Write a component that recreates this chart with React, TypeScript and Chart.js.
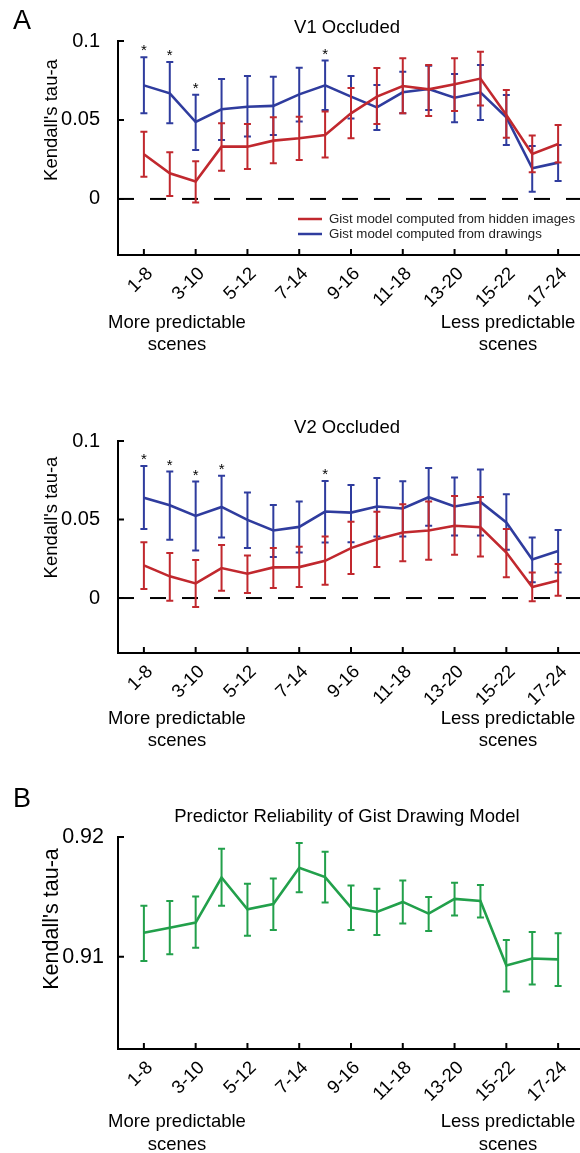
import React, { useEffect, useRef } from 'react';
import { Chart, registerables } from 'chart.js';

Chart.register(...registerables);

const FONT = '"Liberation Sans", Arial, Helvetica, sans-serif';

// Sliding windows of scenes, ordered from more to less predictable
const categories = [
  '1-8', '2-9', '3-10', '4-11', '5-12', '6-13', '7-14', '8-15', '9-16',
  '10-17', '11-18', '12-19', '13-20', '14-21', '15-22', '16-23', '17-24',
];
const labeledTicks = [0, 2, 4, 6, 8, 10, 12, 14, 16];

// V1 occluded: gist model from hidden images (mean, upper, lower)
const v1HiddenMean = [0.0283, 0.0162, 0.011, 0.0331, 0.0331, 0.0369, 0.0384, 0.0405, 0.0542, 0.0648, 0.0715, 0.0694, 0.0726, 0.0762, 0.0532, 0.0285, 0.0348];
const v1HiddenHigh = [0.0426, 0.0295, 0.0238, 0.0479, 0.0475, 0.0517, 0.0521, 0.0553, 0.0703, 0.0829, 0.089, 0.0848, 0.089, 0.0932, 0.069, 0.0401, 0.0468];
const v1HiddenLow = [0.0141, 0.0019, -0.0023, 0.0179, 0.019, 0.0226, 0.0247, 0.0262, 0.0384, 0.0475, 0.0542, 0.0525, 0.0557, 0.0591, 0.0388, 0.0169, 0.023];

// V1 occluded: gist model from drawings
const v1DrawMean = [0.0719, 0.0669, 0.0487, 0.0568, 0.0584, 0.0589, 0.0662, 0.0719, 0.0648, 0.058, 0.0675, 0.0696, 0.0641, 0.0675, 0.0517, 0.0194, 0.023];
const v1DrawHigh = [0.0897, 0.0867, 0.066, 0.076, 0.0778, 0.0774, 0.0831, 0.0876, 0.0778, 0.0722, 0.0806, 0.0844, 0.0791, 0.0848, 0.0658, 0.0335, 0.0342];
const v1DrawLow = [0.0542, 0.0479, 0.031, 0.0373, 0.0395, 0.0405, 0.049, 0.0563, 0.051, 0.0437, 0.0542, 0.0563, 0.0485, 0.05, 0.0342, 0.0046, 0.0114];
const v1Stars = [0, 1, 2, 7];

// V2 occluded: gist model from hidden images
const v2HiddenMean = [0.0208, 0.0138, 0.0093, 0.0191, 0.0155, 0.0195, 0.0197, 0.0237, 0.0318, 0.0375, 0.0417, 0.043, 0.046, 0.0451, 0.029, 0.007, 0.0112];
const v2HiddenHigh = [0.0356, 0.0286, 0.0242, 0.0337, 0.0271, 0.0318, 0.0326, 0.0392, 0.0485, 0.0549, 0.0597, 0.0614, 0.065, 0.0644, 0.0439, 0.0163, 0.0216];
const v2HiddenLow = [0.0057, -0.0017, -0.0057, 0.0047, 0.0032, 0.0064, 0.007, 0.0085, 0.0153, 0.0197, 0.0235, 0.0244, 0.0275, 0.0265, 0.0133, -0.0021, 0.0015];

// V2 occluded: gist model from drawings
const v2DrawMean = [0.0638, 0.0591, 0.0523, 0.058, 0.0498, 0.043, 0.0453, 0.0551, 0.0544, 0.0583, 0.057, 0.0642, 0.0583, 0.0612, 0.0481, 0.0246, 0.0299];
const v2DrawHigh = [0.0841, 0.0805, 0.0742, 0.0778, 0.0672, 0.0593, 0.0614, 0.0746, 0.072, 0.0765, 0.0744, 0.0828, 0.0767, 0.0818, 0.0661, 0.0386, 0.0434];
const v2DrawLow = [0.0439, 0.0371, 0.0303, 0.0386, 0.0318, 0.0261, 0.029, 0.0354, 0.0356, 0.0392, 0.0392, 0.046, 0.0398, 0.0398, 0.0307, 0.01, 0.0163];
const v2Stars = [0, 1, 2, 3, 7];

// Predictor reliability of the gist drawing model
const reliabilityMean = [0.91201, 0.91243, 0.91285, 0.91662, 0.91397, 0.91441, 0.91743, 0.91665, 0.91411, 0.91374, 0.91458, 0.9136, 0.91483, 0.91466, 0.90927, 0.90986, 0.90978];
const reliabilityHigh = [0.91425, 0.91466, 0.91503, 0.91902, 0.91609, 0.91654, 0.9195, 0.91877, 0.91595, 0.91567, 0.91637, 0.915, 0.91617, 0.916, 0.9114, 0.91207, 0.91196];
const reliabilityLow = [0.90964, 0.91022, 0.91075, 0.91427, 0.91176, 0.91223, 0.91539, 0.91453, 0.91223, 0.91182, 0.91277, 0.91215, 0.91344, 0.91327, 0.9071, 0.90768, 0.90757];

const tauTicks = [0, 0.05, 0.1];
const tauTickLabels = ['0', '0.05', '0.1'];
const reliabilityTicks = [0.91, 0.92];
const reliabilityTickLabels = ['0.91', '0.92'];

const RED = '#c1282e';
const BLUE = '#2f3c9e';
const GREEN = '#22a04b';

type Series = { label: string; mean: number[]; high: number[]; low: number[]; color: string };

type PanelSpec = {
  top: number;
  height: number;
  areaTop: number;
  areaBottom: number;
  yMin: number;
  yMax: number;
  yTicks: number[];
  yTickLabels: string[];
  yTickSize: number;
  yTickPad: number;
  yTitleSize: number;
  yTitleX: number;
  yTitleY: number;
  title: string;
  titleY: number;
  letter?: string;
  letterY?: number;
  series: Series[];
  stars?: number[];
  legendY?: number[];
  zeroLine?: boolean;
  captionY: number[];
};

const CANVAS_W = 584;
const AXIS_LEFT = 118;

function drawText(
  ctx: CanvasRenderingContext2D,
  str: string,
  x: number,
  y: number,
  size: number,
  align: CanvasTextAlign = 'center',
  baseline: CanvasTextBaseline = 'alphabetic',
) {
  ctx.font = `${size}px ${FONT}`;
  ctx.textAlign = align;
  ctx.textBaseline = baseline;
  ctx.fillStyle = '#000';
  ctx.fillText(str, x, y);
}

function makePlugin(spec: PanelSpec) {
  return {
    id: 'panelDecor',
    beforeDatasetsDraw(chart: any) {
      if (!spec.zeroLine) return;
      const { ctx, chartArea, scales } = chart;
      const y0 = scales.y.getPixelForValue(0);
      ctx.save();
      ctx.strokeStyle = '#000';
      ctx.lineWidth = 2;
      ctx.setLineDash([16, 16]);
      ctx.beginPath();
      ctx.moveTo(chartArea.left, y0);
      ctx.lineTo(chart.width, y0);
      ctx.stroke();
      ctx.restore();
    },
    beforeDatasetDraw(chart: any, args: any) {
      const s = spec.series[args.index];
      if (!s) return;
      const { ctx, scales } = chart;
      ctx.save();
      ctx.strokeStyle = s.color;
      ctx.lineWidth = 2;
      ctx.lineCap = 'butt';
      for (let i = 0; i < s.mean.length; i++) {
        const px = scales.x.getPixelForValue(i);
        const hi = scales.y.getPixelForValue(s.high[i]);
        const lo = scales.y.getPixelForValue(s.low[i]);
        ctx.beginPath();
        ctx.moveTo(px, hi);
        ctx.lineTo(px, lo);
        ctx.moveTo(px - 3.5, hi);
        ctx.lineTo(px + 3.5, hi);
        ctx.moveTo(px - 3.5, lo);
        ctx.lineTo(px + 3.5, lo);
        ctx.stroke();
      }
      ctx.restore();
    },
    afterDraw(chart: any) {
      const { ctx, chartArea, scales } = chart;
      ctx.save();
      // inward tick marks
      ctx.strokeStyle = '#000';
      ctx.lineWidth = 2;
      ctx.beginPath();
      for (const t of scales.x.ticks) {
        const px = scales.x.getPixelForValue(t.value);
        ctx.moveTo(px, chartArea.bottom);
        ctx.lineTo(px, chartArea.bottom - 6);
      }
      for (const t of scales.y.ticks) {
        const py = scales.y.getPixelForValue(t.value);
        ctx.moveTo(chartArea.left, py);
        ctx.lineTo(chartArea.left + 6, py);
      }
      ctx.stroke();

      // titles and labels
      drawText(ctx, spec.title, 347, spec.titleY, 18.5);
      if (spec.letter) drawText(ctx, spec.letter, 13, spec.letterY ?? 28, 27, 'left');
      ctx.save();
      ctx.translate(spec.yTitleX, spec.yTitleY);
      ctx.rotate(-Math.PI / 2);
      drawText(ctx, "Kendall's tau-a", 0, 0, spec.yTitleSize);
      ctx.restore();

      drawText(ctx, 'More predictable', 177, spec.captionY[0], 18.5);
      drawText(ctx, 'scenes', 177, spec.captionY[1], 18.5);
      drawText(ctx, 'Less predictable', 508, spec.captionY[0], 18.5);
      drawText(ctx, 'scenes', 508, spec.captionY[1], 18.5);

      // significance markers above the drawing-model error bars
      if (spec.stars) {
        const s = spec.series[spec.series.length - 1];
        for (const i of spec.stars) {
          const px = scales.x.getPixelForValue(i);
          const py = scales.y.getPixelForValue(s.high[i]);
          drawText(ctx, '*', px, py - 2, 15);
        }
      }

      // legend
      if (spec.legendY) {
        spec.series.forEach((s, k) => {
          const ly = spec.legendY![k];
          ctx.strokeStyle = s.color;
          ctx.lineWidth = 2.5;
          ctx.beginPath();
          ctx.moveTo(298, ly);
          ctx.lineTo(322, ly);
          ctx.stroke();
          ctx.font = `13.3px ${FONT}`;
          ctx.fillStyle = '#222';
          ctx.textAlign = 'left';
          ctx.textBaseline = 'middle';
          ctx.fillText(s.label, 329, ly + 0.5);
        });
      }
      ctx.restore();
    },
  };
}

function Panel({ spec }: { spec: PanelSpec }) {
  const ref = useRef<HTMLCanvasElement | null>(null);
  useEffect(() => {
    if (!ref.current) return;
    const chart = new Chart(ref.current, {
      type: 'line',
      data: {
        datasets: spec.series.map((s) => ({
          label: s.label,
          data: s.mean.map((v, i) => ({ x: i, y: v })),
          borderColor: s.color,
          backgroundColor: s.color,
          borderWidth: 2.6,
          pointRadius: 0,
          tension: 0,
          fill: false,
        })),
      },
      options: {
        animation: false,
        responsive: false,
        devicePixelRatio: 1,
        layout: { padding: { top: spec.areaTop, left: 0, right: 0, bottom: 0 } },
        plugins: { legend: { display: false }, title: { display: false }, tooltip: { enabled: false } },
        scales: {
          x: {
            type: 'linear',
            min: -1,
            max: 17,
            afterBuildTicks: (s: any) => {
              s.ticks = labeledTicks.map((v) => ({ value: v }));
            },
            afterFit: (s: any) => {
              s.height = spec.height - spec.areaBottom;
            },
            grid: { display: false },
            border: { display: true, color: '#000', width: 2 },
            ticks: {
              autoSkip: false,
              minRotation: 45,
              maxRotation: 45,
              padding: 0,
              labelOffset: 6,
              color: '#000',
              font: { family: FONT, size: 18.5 },
              callback: (v: any) => categories[v as number] ?? '',
            },
          },
          y: {
            type: 'linear',
            min: spec.yMin,
            max: spec.yMax,
            afterBuildTicks: (s: any) => {
              s.ticks = spec.yTicks.map((v) => ({ value: v }));
            },
            afterFit: (s: any) => {
              s.width = AXIS_LEFT;
            },
            grid: { display: false },
            border: { display: true, color: '#000', width: 2 },
            ticks: {
              padding: spec.yTickPad,
              color: '#000',
              font: { family: FONT, size: spec.yTickSize },
              callback: (v: any) => spec.yTickLabels[spec.yTicks.indexOf(v as number)] ?? '',
            },
          },
        },
      },
      plugins: [makePlugin(spec)],
    });
    return () => chart.destroy();
  }, [spec]);
  return (
    <canvas
      ref={ref}
      width={CANVAS_W}
      height={spec.height}
      style={{ position: 'absolute', left: 0, top: spec.top, width: CANVAS_W, height: spec.height }}
    />
  );
}

const hiddenLabel = 'Gist model computed from hidden images';
const drawLabel = 'Gist model computed from drawings';

const panels: PanelSpec[] = [
  {
    top: 0,
    height: 370,
    areaTop: 41,
    areaBottom: 255,
    yMin: -0.0355,
    yMax: 0.1,
    yTicks: tauTicks,
    yTickLabels: tauTickLabels,
    yTickSize: 20,
    yTickPad: 10,
    yTitleSize: 18.5,
    yTitleX: 57,
    yTitleY: 120,
    title: 'V1 Occluded',
    titleY: 32.5,
    letter: 'A',
    letterY: 29,
    series: [
      { label: hiddenLabel, mean: v1HiddenMean, high: v1HiddenHigh, low: v1HiddenLow, color: RED },
      { label: drawLabel, mean: v1DrawMean, high: v1DrawHigh, low: v1DrawLow, color: BLUE },
    ],
    stars: v1Stars,
    legendY: [219, 234],
    zeroLine: true,
    captionY: [328, 350],
  },
  {
    top: 400,
    height: 370,
    areaTop: 41,
    areaBottom: 253,
    yMin: -0.035,
    yMax: 0.1,
    yTicks: tauTicks,
    yTickLabels: tauTickLabels,
    yTickSize: 20,
    yTickPad: 10,
    yTitleSize: 18.5,
    yTitleX: 57,
    yTitleY: 117.5,
    title: 'V2 Occluded',
    titleY: 32.5,
    series: [
      { label: hiddenLabel, mean: v2HiddenMean, high: v2HiddenHigh, low: v2HiddenLow, color: RED },
      { label: drawLabel, mean: v2DrawMean, high: v2DrawHigh, low: v2DrawLow, color: BLUE },
    ],
    stars: v2Stars,
    zeroLine: true,
    captionY: [324, 346],
  },
  {
    top: 780,
    height: 373,
    areaTop: 57,
    areaBottom: 269,
    yMin: 0.9023,
    yMax: 0.92,
    yTicks: reliabilityTicks,
    yTickLabels: reliabilityTickLabels,
    yTickSize: 21.5,
    yTickPad: 6,
    yTitleSize: 21.5,
    yTitleX: 58,
    yTitleY: 139,
    title: 'Predictor Reliability of Gist Drawing Model',
    titleY: 41.5,
    letter: 'B',
    letterY: 27,
    series: [
      { label: 'Predictor reliability', mean: reliabilityMean, high: reliabilityHigh, low: reliabilityLow, color: GREEN },
    ],
    captionY: [347, 370],
  },
];

export default function App() {
  return (
    <div
      style={{
        position: 'absolute',
        left: 0,
        top: 0,
        width: 580,
        height: 1153,
        overflow: 'hidden',
        background: '#fff',
      }}
    >
      {panels.map((p, i) => (
        <Panel key={i} spec={p} />
      ))}
    </div>
  );
}
